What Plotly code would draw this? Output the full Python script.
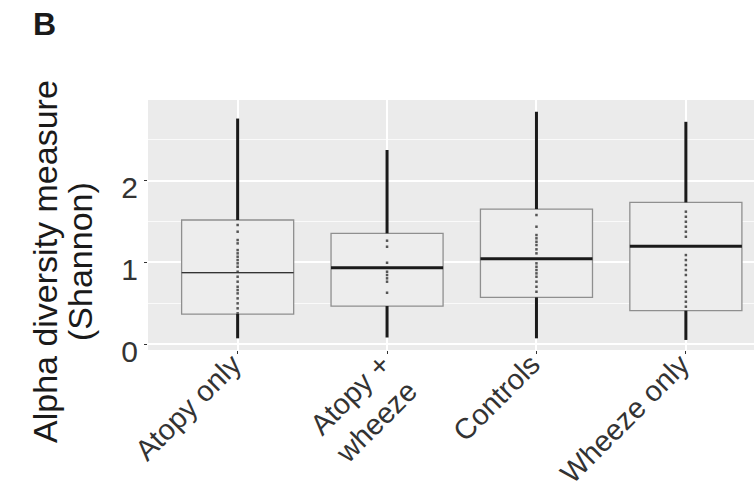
import plotly.graph_objects as go

# ---- data ----
categories = ["Atopy only", "Atopy +<br>wheeze", "Controls", "Wheeze only"]
q1_vals = [0.367, 0.465, 0.571, 0.408]
median_vals = [0.873, 0.934, 1.044, 1.196]
q3_vals = [1.518, 1.355, 1.652, 1.734]
lower_whisker = [0.07, 0.08, 0.07, 0.05]
upper_whisker = [2.76, 2.375, 2.843, 2.72]

points_atopy_only = [1.457, 1.375, 1.273, 1.232, 1.15, 1.11, 1.069, 1.028, 0.988, 0.946,
                     0.885, 0.824, 0.763, 0.701, 0.661, 0.62, 0.559, 0.498, 0.437, 0.376]
points_atopy_wheeze = [1.265, 1.191, 0.995, 0.885, 0.845, 0.804, 0.763, 0.628]
points_controls = [1.579, 1.436, 1.334, 1.294, 1.252, 1.212, 1.159, 1.11, 0.988, 0.946,
                   0.906, 0.865, 0.824, 0.763, 0.701, 0.64]
points_wheeze_only = [1.62, 1.558, 1.497, 1.436, 1.375, 1.313, 1.089, 1.028, 0.967, 0.906,
                      0.845, 0.763, 0.701, 0.64, 0.579, 0.518, 0.457]
group_points = [points_atopy_only, points_atopy_wheeze, points_controls, points_wheeze_only]

y_ticks = [0, 1, 2]
y_title_line1 = "Alpha diversity measure"
y_title_line2 = "(Shannon)"
panel_label = "B"

# ---- styling ----
FONT = "Liberation Sans, Arial, Helvetica, sans-serif"
BOX_WIDTH = 0.75
positions = list(range(len(categories)))
W, H = 754, 490
ML, MR, MT, MB = 148, 0, 100, 140

fig = go.Figure()

# boxes (no whiskers; whiskers drawn separately)
fig.add_trace(go.Box(
    x=positions, q1=q1_vals, median=median_vals, q3=q3_vals,
    lowerfence=q1_vals, upperfence=q3_vals,
    width=BOX_WIDTH, fillcolor="#EDEDED",
    line=dict(color="#8f8f8f", width=1.3),
    boxpoints=False, hoverinfo="skip", showlegend=False,
))

# individual points
px, py = [], []
for i, pts in enumerate(group_points):
    px += [positions[i]] * len(pts)
    py += pts
fig.add_trace(go.Scatter(
    x=px, y=py, mode="markers",
    marker=dict(symbol="square", size=2.5, color="#555555"),
    showlegend=False, hoverinfo="skip",
))

# whiskers
wx, wy = [], []
for i in positions:
    wx += [i, i, None, i, i, None]
    wy += [lower_whisker[i], q1_vals[i], None, q3_vals[i], upper_whisker[i], None]
fig.add_trace(go.Scatter(
    x=wx, y=wy, mode="lines",
    line=dict(color="#1a1a1a", width=3),
    showlegend=False, hoverinfo="skip",
))

# medians
median_widths = [1.2, 3, 3, 3]
median_colors = ["#333333", "#1a1a1a", "#1a1a1a", "#1a1a1a"]
for i in positions:
    fig.add_trace(go.Scatter(
        x=[i - BOX_WIDTH / 2, i + BOX_WIDTH / 2], y=[median_vals[i], median_vals[i]],
        mode="lines", line=dict(color=median_colors[i], width=median_widths[i]),
        showlegend=False, hoverinfo="skip",
    ))

pw = W - ML - MR
ph = H - MT - MB


def px2paper(x, y):
    return (x - ML) / pw, (H - MB - y) / ph


ax1, ay1 = px2paper(45, 262)
ax2, ay2 = px2paper(80, 262)
bx, by = px2paper(31, 24)

fig.update_layout(
    width=W, height=H,
    margin=dict(l=ML, r=MR, t=MT, b=MB),
    paper_bgcolor="white", plot_bgcolor="#EBEBEB",
    font=dict(family=FONT, color="#333333"),
    showlegend=False,
    xaxis=dict(
        range=[-0.6, 3.456], tickvals=positions, ticktext=categories,
        tickangle=-45, tickfont=dict(size=29, color="#333333", family=FONT),
        showgrid=True, gridcolor="white", gridwidth=1.6, zeroline=False,
        ticks="outside", ticklen=3, tickcolor="#333333", tickwidth=1,
        ticklabelstandoff=-18, ticklabelshift=-5,
        automargin=False, showline=False,
    ),
    yaxis=dict(
        range=[-0.073, 2.987], tickvals=y_ticks, ticktext=[str(v) for v in y_ticks],
        tickfont=dict(size=30, color="#333333", family=FONT),
        showgrid=True, gridcolor="white", gridwidth=1.6, zeroline=False,
        ticks="outside", ticklen=3, tickcolor="#333333", tickwidth=1,
        ticklabelshift=7,
        minor=dict(tick0=0.5, dtick=1, showgrid=True, gridcolor="#FAFAFA", gridwidth=1, ticks=""),
        automargin=False, showline=False,
    ),
    annotations=[
        dict(text=y_title_line1, textangle=-90, x=ax1, y=ay1, xref="paper", yref="paper",
             showarrow=False, font=dict(size=34, color="#1a1a1a", family=FONT),
             xanchor="center", yanchor="middle"),
        dict(text=y_title_line2, textangle=-90, x=ax2, y=ay2, xref="paper", yref="paper",
             showarrow=False, font=dict(size=34, color="#1a1a1a", family=FONT),
             xanchor="center", yanchor="middle"),
        dict(text="<b>" + panel_label + "</b>", x=bx, y=by, xref="paper", yref="paper",
             showarrow=False, font=dict(size=32, color="#1a1a1a", family=FONT),
             xanchor="left", yanchor="middle"),
    ],
)

fig.write_html(
    "out.html",
    config={"displayModeBar": False},
    post_script="document.body.style.margin='0';document.body.style.overflow='hidden';",
)
